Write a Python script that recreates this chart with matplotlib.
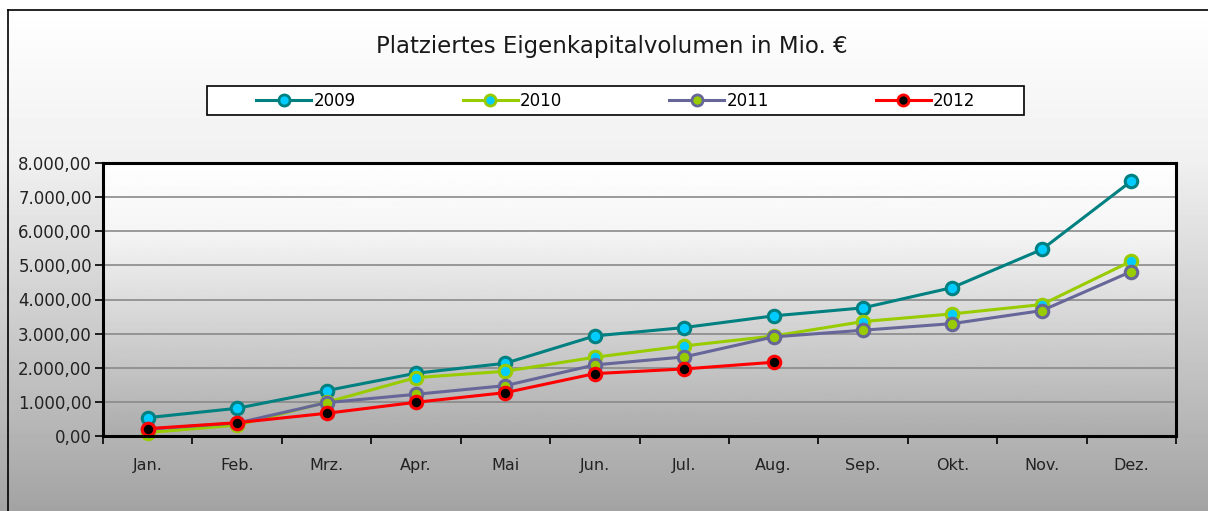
import numpy as np
import matplotlib
matplotlib.use("Agg")
import matplotlib.pyplot as plt
from matplotlib.ticker import FuncFormatter, FixedLocator
from matplotlib.lines import Line2D
from matplotlib.patches import Rectangle

# Daten (Mio. EUR, kumuliert)
monate = ["Jan.", "Feb.", "Mrz.", "Apr.", "Mai", "Jun.",
          "Jul.", "Aug.", "Sep.", "Okt.", "Nov.", "Dez."]
werte_2009 = [537, 812, 1330, 1840, 2132, 2933, 3178, 3520, 3755, 4351, 5466, 7470]
werte_2010 = [100, 320, 988, 1711, 1897, 2308, 2640, 2930, 3354, 3579, 3852, 5124]
werte_2011 = [200, 380, 977, 1222, 1476, 2083, 2317, 2904, 3100, 3294, 3675, 4820]
werte_2012 = [215, 390, 665, 988, 1271, 1828, 1965, 2161]
jahre = ["2009", "2010", "2011", "2012"]

# Linie, Markerrand, Markerfuellung
STIL = {
    "2009": ("#008080", "#008080", "#00ccff"),
    "2010": ("#99cc00", "#99cc00", "#00ccff"),
    "2011": ("#666699", "#666699", "#99cc00"),
    "2012": ("#ff0000", "#ff0000", "#000000"),
}

W, H = 1208, 511
fig = plt.figure(figsize=(W / 100, H / 100), dpi=100)
plt.rcParams["font.family"] = ["DejaVu Sans"]

# Hintergrund mit Verlauf (oben weiss, unten grau)
bg = fig.add_axes([0, 0, 1, 1], zorder=-10)
ys = np.linspace(0, 1, 256)
grau = np.interp(ys, [0, 10 / H, 160 / H, 436 / H, 1], [255, 255, 240, 180, 163])
bg.imshow(np.repeat(grau[:, None], 2, axis=1), cmap="gray", vmin=0, vmax=255,
          extent=[0, 1, 1, 0], aspect="auto")
bg.set_xlim(0, 1)
bg.set_ylim(1, 0)
bg.axis("off")
# Rahmen links und oben
bg.plot([8 / W, 8 / W], [10 / H, 1], color="black", lw=1.2)
bg.plot([8 / W, 1], [10 / H, 10 / H], color="black", lw=1.2)

ax = fig.add_axes([103 / W, 1 - 436 / H, (1176 - 103) / W, (436 - 163) / H])
ax.patch.set_visible(False)
x = np.arange(len(monate))

# Verlauf im Diagrammbereich
innen = np.interp(np.linspace(0, 1, 256), [0, 0.25, 1], [254, 245, 172])
ax.imshow(np.repeat(innen[:, None], 2, axis=1), cmap="gray", vmin=0, vmax=255,
          extent=[-0.5, 11.5, 0, 8000], aspect="auto", zorder=0)

for y in range(1000, 8000, 1000):
    ax.axhline(y, color="#8a8a8a", lw=1.2, zorder=1)

for jahr, werte in zip(jahre, [werte_2009, werte_2010, werte_2011, werte_2012]):
    farbe, rand, fuell = STIL[jahr]
    ax.plot(x[:len(werte)], werte, color=farbe, lw=2.2, marker="o", ms=9,
            mec=rand, mfc=fuell, mew=2.2, zorder=3, clip_on=False)

ax.set_xlim(-0.5, 11.5)
ax.set_ylim(0, 8000)
ax.set_xticks(x)
ax.set_xticklabels(monate, fontsize=11.5, color="#222222")
ax.xaxis.set_minor_locator(FixedLocator(np.arange(-0.5, 12, 1)))
ax.tick_params(axis="x", which="major", length=0, pad=16)
ax.tick_params(axis="x", which="minor", length=6, width=1.2, direction="out")
ax.set_yticks(range(0, 8001, 1000))
ax.yaxis.set_major_formatter(
    FuncFormatter(lambda v, _: f"{v:,.2f}".replace(",", "X").replace(".", ",").replace("X", ".")))
ax.tick_params(axis="y", length=6, width=1.2, labelsize=12, pad=2, labelcolor="#222222")
for s in ax.spines.values():
    s.set_linewidth(2.2)
    s.set_color("black")
    s.set_zorder(4)

fig.text(612 / W, 1 - 46 / H, "Platziertes Eigenkapitalvolumen in Mio. \u20ac",
         ha="center", va="center", fontsize=16.5, color="#1a1a1a")

# Legende mit eigenem Rahmen
fig.patches.append(Rectangle((207 / W, 1 - 115 / H), 817 / W, 29 / H,
                             transform=fig.transFigure, facecolor="white",
                             edgecolor="black", lw=1.2, zorder=1))
handles = []
for jahr in jahre:
    farbe, rand, fuell = STIL[jahr]
    handles.append(Line2D([], [], color=farbe, lw=2.2, marker="o", ms=8,
                          mec=rand, mfc=fuell, mew=2.0))
leg = fig.legend(handles, jahre, loc="center", bbox_to_anchor=(616 / W, 1 - 101 / H),
                 ncol=4, frameon=False, fontsize=12, handlelength=3.3,
                 handletextpad=0.15, columnspacing=6.4)
leg.set_zorder(5)

fig.savefig("out.png", dpi=100)
